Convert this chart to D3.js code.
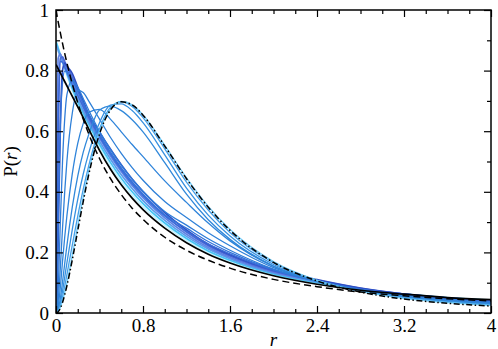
<html>
<head>
<script src="https://d3js.org/d3.v7.min.js"></script>
<style>
    body {
        margin: 0;
        background: #ffffff;
    }
    .axis line { stroke: #000; stroke-width: 1.2px; }
</style>
</head>
<body>
<svg id="chart" width="498" height="349"></svg>
<script>
    // sample points (r) shared by all curves
    let rGrid = [0, 0.01, 0.02, 0.04, 0.06, 0.08, 0.1, 0.15, 0.2, 0.25, 0.3, 0.4, 0.5, 0.6, 0.7, 0.8, 1.0, 1.2, 1.4, 1.6, 2.0, 2.4, 2.8, 3.2, 3.6, 4.0]

    // black reference curves
    let poissonP = [1.000, 0.980, 0.961, 0.925, 0.890, 0.857, 0.826, 0.756, 0.694, 0.640, 0.592, 0.510, 0.444, 0.391, 0.346, 0.309, 0.250, 0.207, 0.174, 0.148, 0.111, 0.087, 0.069, 0.057, 0.047, 0.040]
    let gueP     = [0, 0.001, 0.004, 0.016, 0.035, 0.060, 0.089, 0.176, 0.272, 0.367, 0.455, 0.591, 0.670, 0.697, 0.687, 0.653, 0.551, 0.443, 0.349, 0.273, 0.167, 0.106, 0.069, 0.046, 0.032, 0.023]
    let solidP   = [0.820, 0.813, 0.806, 0.792, 0.778, 0.764, 0.750, 0.715, 0.680, 0.645, 0.608, 0.537, 0.475, 0.423, 0.379, 0.341, 0.280, 0.232, 0.194, 0.165, 0.123, 0.095, 0.075, 0.062, 0.051, 0.044]

    // blue band near the solid curve
    let band1 = [0.900, 0.888, 0.876, 0.852, 0.829, 0.806, 0.784, 0.734, 0.688, 0.651, 0.616, 0.547, 0.486, 0.434, 0.390, 0.351, 0.289, 0.239, 0.200, 0.170, 0.126, 0.098, 0.076, 0.062, 0.051, 0.043]
    let band2 = [0.895, 0.885, 0.874, 0.852, 0.831, 0.810, 0.790, 0.741, 0.697, 0.660, 0.624, 0.557, 0.497, 0.445, 0.400, 0.361, 0.297, 0.246, 0.205, 0.174, 0.129, 0.100, 0.077, 0.062, 0.050, 0.042]
    let band3 = [0.885, 0.876, 0.866, 0.847, 0.828, 0.810, 0.792, 0.750, 0.708, 0.669, 0.632, 0.567, 0.508, 0.456, 0.411, 0.371, 0.306, 0.253, 0.211, 0.179, 0.132, 0.103, 0.079, 0.062, 0.050, 0.041]
    let band4 = [0.000, 0.550, 0.840, 0.855, 0.838, 0.821, 0.803, 0.765, 0.722, 0.680, 0.640, 0.577, 0.519, 0.467, 0.421, 0.381, 0.314, 0.260, 0.216, 0.183, 0.135, 0.105, 0.080, 0.062, 0.049, 0.040]
    let band5 = [0.000, 0.200, 0.550, 0.840, 0.845, 0.830, 0.813, 0.778, 0.735, 0.690, 0.648, 0.587, 0.530, 0.478, 0.432, 0.391, 0.323, 0.267, 0.222, 0.188, 0.138, 0.108, 0.081, 0.062, 0.049, 0.039]
    let band6 = [0.000, 0.070, 0.250, 0.620, 0.800, 0.825, 0.815, 0.790, 0.745, 0.700, 0.656, 0.597, 0.541, 0.489, 0.442, 0.401, 0.331, 0.274, 0.227, 0.192, 0.141, 0.110, 0.082, 0.062, 0.048, 0.038]

    // thin blue curves with a growing gap at small r
    let thin1 = [0, 0.300, 0.620, 0.830, 0.828, 0.812, 0.795, 0.755, 0.717, 0.681, 0.647, 0.582, 0.524, 0.472, 0.426, 0.387, 0.320, 0.270, 0.228, 0.195, 0.141, 0.106, 0.079, 0.061, 0.047, 0.037]
    let thin2 = [0, 0.090, 0.280, 0.620, 0.760, 0.798, 0.798, 0.768, 0.732, 0.694, 0.658, 0.590, 0.530, 0.478, 0.432, 0.392, 0.324, 0.280, 0.236, 0.200, 0.143, 0.106, 0.078, 0.060, 0.046, 0.036]
    let thin3 = [0, 0.020, 0.080, 0.300, 0.500, 0.640, 0.720, 0.768, 0.745, 0.708, 0.670, 0.600, 0.540, 0.488, 0.442, 0.402, 0.335, 0.290, 0.245, 0.207, 0.145, 0.104, 0.076, 0.058, 0.044, 0.035]
    let thin4 = [0, 0.010, 0.040, 0.150, 0.280, 0.400, 0.500, 0.660, 0.735, 0.728, 0.700, 0.640, 0.580, 0.527, 0.480, 0.438, 0.368, 0.315, 0.265, 0.222, 0.150, 0.105, 0.075, 0.056, 0.042, 0.033]
    let thin5 = [0, 0.005, 0.022, 0.085, 0.170, 0.250, 0.320, 0.460, 0.560, 0.625, 0.662, 0.672, 0.640, 0.598, 0.556, 0.516, 0.436, 0.365, 0.297, 0.238, 0.154, 0.105, 0.074, 0.054, 0.040, 0.031]
    let thin6 = [0, 0.003, 0.012, 0.048, 0.103, 0.163, 0.222, 0.350, 0.452, 0.530, 0.588, 0.670, 0.683, 0.668, 0.638, 0.598, 0.496, 0.392, 0.308, 0.243, 0.155, 0.105, 0.073, 0.052, 0.038, 0.029]
    let thin7 = [0, 0.002, 0.008, 0.033, 0.072, 0.118, 0.165, 0.276, 0.375, 0.458, 0.527, 0.628, 0.686, 0.690, 0.668, 0.628, 0.522, 0.412, 0.323, 0.254, 0.160, 0.106, 0.072, 0.051, 0.037, 0.028]
    let thin8 = [0, 0.001, 0.006, 0.024, 0.052, 0.088, 0.126, 0.225, 0.320, 0.408, 0.485, 0.607, 0.678, 0.697, 0.682, 0.645, 0.542, 0.432, 0.340, 0.266, 0.166, 0.108, 0.072, 0.050, 0.036, 0.027]
    let thin9 = [0, 0.001, 0.005, 0.019, 0.040, 0.067, 0.098, 0.190, 0.288, 0.382, 0.466, 0.598, 0.673, 0.698, 0.687, 0.654, 0.553, 0.446, 0.352, 0.276, 0.170, 0.108, 0.071, 0.048, 0.034, 0.025]

    let xTicks = [0, 0.8, 1.6, 2.4, 3.2, 4]
    let yTicks = [0, 0.2, 0.4, 0.6, 0.8, 1]
    let xMinor = [0.2, 0.4, 0.6, 1.0, 1.2, 1.4, 1.8, 2.0, 2.2, 2.6, 2.8, 3.0, 3.4, 3.6, 3.8]
    let yMinor = [0.1, 0.3, 0.5, 0.7, 0.9]

    let bandCurves = [band1, band2, band3, band4, band5, band6]
    let bandColors = ["#c4f3ff", "#44c4f4", "#5a9cec", "#5f82e4", "#4a6ad8", "#2f4fc4"]
    let thinCurves = [thin1, thin2, thin3, thin4, thin5, thin6, thin7, thin8, thin9]
    let thinColors = ["#3a6cd8", "#3474da", "#2f7cd8", "#2f80d8", "#2f84da", "#3088da", "#3690e0", "#45a0e8", "#6cc8f6"]

    let serif = "'Liberation Serif', 'Times New Roman', Times, 'DejaVu Serif', serif"

    let width = 498
    let height = 349
    let margin = {left: 56, top: 10, right: 7, bottom: 36}

    let svg = d3.select("#chart")

    let xScale = d3.scaleLinear().domain([0, 4]).range([margin.left, width - margin.right])
    let yScale = d3.scaleLinear().domain([0, 1]).range([height - margin.bottom, margin.top])

    svg.append("clipPath").attr("id", "clip")
        .append("rect")
        .attr("x", margin.left).attr("y", margin.top)
        .attr("width", width - margin.left - margin.right)
        .attr("height", height - margin.top - margin.bottom)

    let line = d3.line()
        .x((d, i) => xScale(rGrid[i]))
        .y(d => yScale(d))
        .curve(d3.curveMonotoneX)

    let plot = svg.append("g").attr("clip-path", "url(#clip)")

    plot.selectAll(".band")
        .data(bandCurves)
        .enter().append("path")
        .attr("d", line)
        .attr("fill", "none")
        .attr("stroke", (d, i) => bandColors[i])
        .attr("stroke-width", 1.7)

    plot.selectAll(".thin")
        .data(thinCurves)
        .enter().append("path")
        .attr("d", line)
        .attr("fill", "none")
        .attr("stroke", (d, i) => thinColors[i])
        .attr("stroke-width", 1.3)

    plot.append("path").attr("d", line(solidP))
        .attr("fill", "none").attr("stroke", "#000").attr("stroke-width", 1.7)
    plot.append("path").attr("d", line(poissonP))
        .attr("fill", "none").attr("stroke", "#000").attr("stroke-width", 1.5)
        .attr("stroke-dasharray", "7,4")
    plot.append("path").attr("d", line(gueP))
        .attr("fill", "none").attr("stroke", "#000").attr("stroke-width", 1.5)
        .attr("stroke-dasharray", "6,2.5,1.5,2.5")

    // axes, ticks pointing inward on all four sides
    let bottom = height - margin.bottom
    let right = width - margin.right
    let fmt = d3.format("~g")

    svg.append("g").attr("class", "axis").attr("transform", `translate(0,${bottom})`)
        .call(d3.axisBottom(xScale).tickValues(xTicks).tickSize(-7).tickPadding(6).tickFormat(fmt))
    svg.append("g").attr("class", "axis").attr("transform", `translate(0,${bottom})`)
        .call(d3.axisBottom(xScale).tickValues(xMinor).tickSize(-4).tickFormat(""))
    svg.append("g").attr("class", "axis").attr("transform", `translate(0,${margin.top})`)
        .call(d3.axisTop(xScale).tickValues(xTicks).tickSize(-7).tickFormat(""))
    svg.append("g").attr("class", "axis").attr("transform", `translate(0,${margin.top})`)
        .call(d3.axisTop(xScale).tickValues(xMinor).tickSize(-4).tickFormat(""))

    svg.append("g").attr("class", "axis").attr("transform", `translate(${margin.left},0)`)
        .call(d3.axisLeft(yScale).tickValues(yTicks).tickSize(-7).tickPadding(7).tickFormat(fmt))
    svg.append("g").attr("class", "axis").attr("transform", `translate(${margin.left},0)`)
        .call(d3.axisLeft(yScale).tickValues(yMinor).tickSize(-4).tickFormat(""))
    svg.append("g").attr("class", "axis").attr("transform", `translate(${right},0)`)
        .call(d3.axisRight(yScale).tickValues(yTicks).tickSize(-7).tickFormat(""))
    svg.append("g").attr("class", "axis").attr("transform", `translate(${right},0)`)
        .call(d3.axisRight(yScale).tickValues(yMinor).tickSize(-4).tickFormat(""))

    svg.selectAll(".axis .domain").remove()
    svg.selectAll(".axis text")
        .style("font-family", serif)
        .style("font-size", "19px")
        .attr("fill", "#000")

    svg.append("rect")
        .attr("x", margin.left).attr("y", margin.top)
        .attr("width", right - margin.left).attr("height", bottom - margin.top)
        .attr("fill", "none").attr("stroke", "#000").attr("stroke-width", 1.5)

    // axis titles
    let yTitle = svg.append("text")
        .attr("transform", `translate(17,${(margin.top + bottom) / 2}) rotate(-90)`)
        .attr("text-anchor", "middle")
        .style("font-family", serif)
        .style("font-size", "19px")
    yTitle.append("tspan").text("P(")
    yTitle.append("tspan").style("font-style", "italic").text("r")
    yTitle.append("tspan").text(")")

    svg.append("text")
        .attr("x", (margin.left + right) / 2)
        .attr("y", 346)
        .attr("text-anchor", "middle")
        .style("font-family", serif)
        .style("font-size", "19px")
        .style("font-style", "italic")
        .text("r")
</script>
</body>
</html>
